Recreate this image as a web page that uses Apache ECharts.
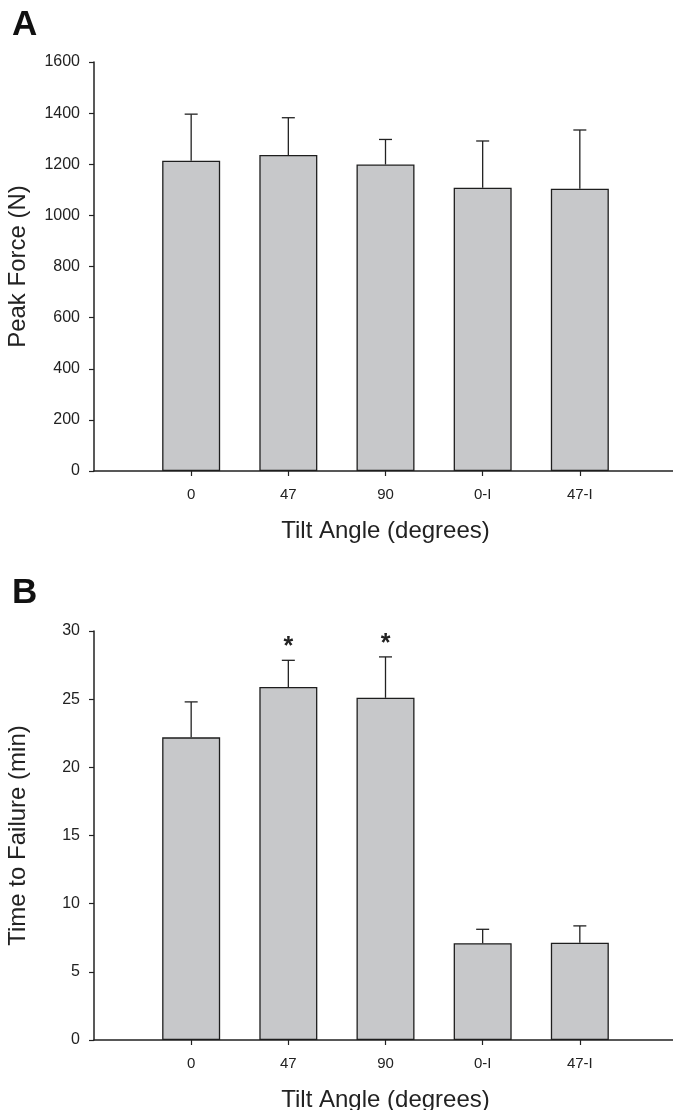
<!DOCTYPE html>
<html>
<head>
<meta charset="utf-8">
<script src="https://cdn.jsdelivr.net/npm/echarts@6/dist/echarts.min.js"></script>
<style>
  html, body { margin: 0; padding: 0; background: #fff; }
  #main { width: 673px; height: 1110px; }
</style>
</head>
<body>
<div id="main"></div>
<script>
// categories and values
var angles = ['0', '47', '90', '0-I', '47-I']
var forceMean = [1214, 1236, 1199, 1108, 1104]
var forceSd = [182, 146, 98, 183, 230]
var timeMean = [22.2, 25.9, 25.1, 7.1, 7.13]
var timeSd = [2.6, 1.95, 3.0, 1.02, 1.24]
var timeSig = ['', '*', '*', '', '']
var forceTicks = [0, 1600, 200]
var timeTicks = [0, 30, 5]

var font = 'Liberation Sans, Arial, sans-serif'
var ink = '#222'
var axisCats = [''].concat(angles, [''])

function xAxisFor (gridIndex) {
  return {
    type: 'category',
    gridIndex: gridIndex,
    data: axisCats,
    boundaryGap: false,
    name: 'Tilt Angle (degrees)',
    nameLocation: 'middle',
    nameGap: 48,
    nameTextStyle: { fontFamily: font, fontSize: 24, color: ink },
    axisLine: { lineStyle: { color: ink, width: 1.5 } },
    axisTick: { length: 5, lineStyle: { color: ink, width: 1.2 }, interval: function (i) { return i > 0 && i < axisCats.length - 1 } },
    axisLabel: { interval: 0, margin: 16, fontFamily: font, fontSize: 15, color: ink },
    splitLine: { show: false }
  }
}

function yAxisFor (gridIndex, ticks, title) {
  return {
    type: 'value',
    gridIndex: gridIndex,
    min: ticks[0],
    max: ticks[1],
    interval: ticks[2],
    name: title,
    nameLocation: 'middle',
    nameRotate: 90,
    nameGap: 64,
    nameTextStyle: { fontFamily: font, fontSize: 24, color: ink },
    axisLine: { show: true, lineStyle: { color: ink, width: 1.5 } },
    axisTick: { show: true, length: 5, lineStyle: { color: ink, width: 1.2 } },
    axisLabel: { margin: 14, fontFamily: font, fontSize: 16, color: ink, formatter: function (v) { return String(v) } },
    splitLine: { show: false }
  }
}

function barSeries (idx, means) {
  return {
    type: 'bar',
    xAxisIndex: idx,
    yAxisIndex: idx,
    barWidth: 58,
    data: means.map(function (v, i) { return [i + 1, v] }),
    itemStyle: { color: '#c7c8ca', borderColor: '#1e1e1e', borderWidth: 1.3 },
    silent: true,
    z: 2
  }
}

function errSeries (idx, means, sds, sig) {
  return {
    type: 'custom',
    xAxisIndex: idx,
    yAxisIndex: idx,
    data: means.map(function (v, i) { return [i + 1, v, v + sds[i], sig ? sig[i] : ''] }),
    renderItem: function (params, api) {
      var base = api.coord([api.value(0), api.value(1)])
      var top = api.coord([api.value(0), api.value(2)])
      var cap = 6.5
      var kids = [
        { type: 'line', shape: { x1: base[0], y1: base[1], x2: top[0], y2: top[1] }, style: { stroke: ink, lineWidth: 1.3 } },
        { type: 'line', shape: { x1: top[0] - cap, y1: top[1], x2: top[0] + cap, y2: top[1] }, style: { stroke: ink, lineWidth: 1.3 } }
      ]
      var mark = api.value(3)
      if (mark) {
        kids.push({ type: 'text', x: top[0], y: top[1] - 13, style: { text: mark, font: 'bold 25px ' + font, fill: ink, align: 'center', verticalAlign: 'middle' } })
      }
      return { type: 'group', children: kids }
    },
    silent: true,
    z: 3
  }
}

var myChart = echarts.init(document.getElementById('main'))

var option = {
  backgroundColor: '#fff',
  animation: false,
  grid: [
    { left: 94, top: 62, width: 583, height: 409, outerBoundsMode: 'none' },
    { left: 94, top: 631, width: 583, height: 409, outerBoundsMode: 'none' }
  ],
  xAxis: [xAxisFor(0), xAxisFor(1)],
  yAxis: [
    yAxisFor(0, forceTicks, 'Peak Force (N)'),
    yAxisFor(1, timeTicks, 'Time to Failure (min)')
  ],
  graphic: [
    { type: 'text', left: 12, top: 8, style: { text: 'A', font: 'bold 35px ' + font, fill: '#111' } },
    { type: 'text', left: 12, top: 576, style: { text: 'B', font: 'bold 35px ' + font, fill: '#111' } }
  ],
  series: [
    barSeries(0, forceMean),
    errSeries(0, forceMean, forceSd),
    barSeries(1, timeMean),
    errSeries(1, timeMean, timeSd, timeSig)
  ]
}

myChart.setOption(option)
</script>
</body>
</html>
